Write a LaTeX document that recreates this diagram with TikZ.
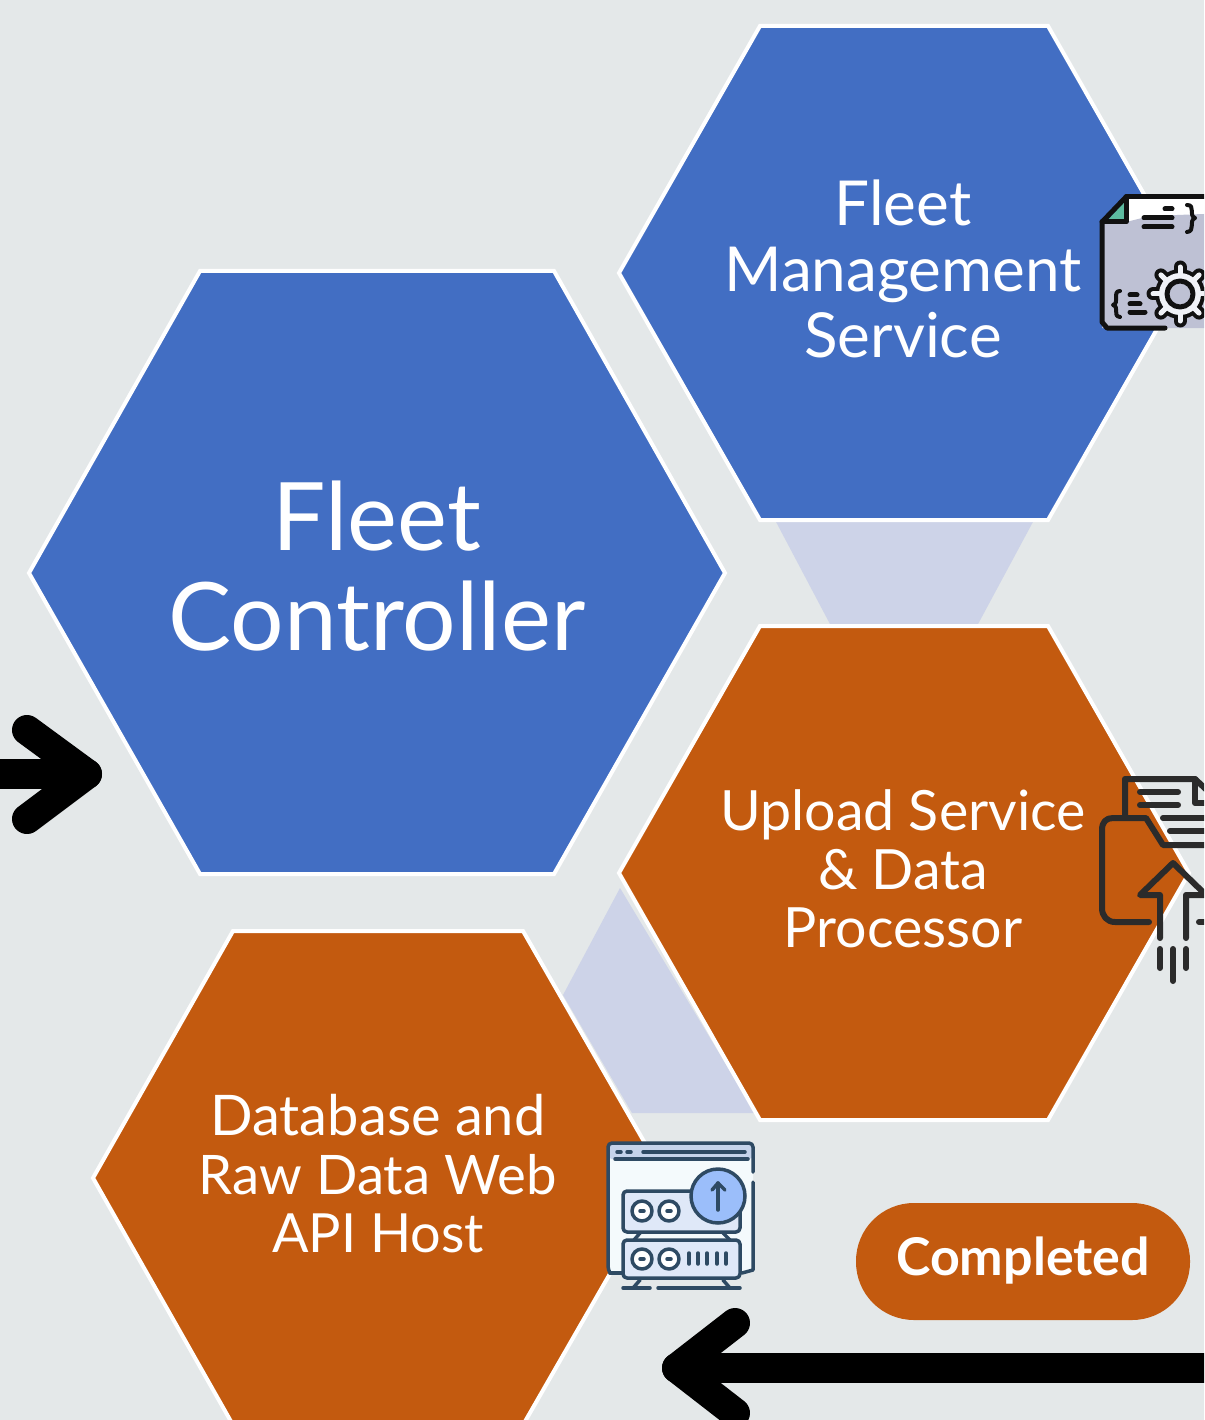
\documentclass[tikz,border=0pt]{standalone}
\usepackage{fontspec}
\setmainfont{Lato}
\definecolor{bgc}{HTML}{E4E8E9}
\definecolor{hexblue}{HTML}{426EC3}
\definecolor{hexorange}{HTML}{C35A0F}
\definecolor{band}{HTML}{CDD3E8}
\definecolor{inka}{HTML}{111111}
\definecolor{inkb}{HTML}{2B2B2B}
\definecolor{inkc}{HTML}{2E4A63}
\definecolor{docgray}{HTML}{BEC1D4}
\definecolor{docteal}{HTML}{5DBB9F}
\definecolor{gearw}{HTML}{F0F2F7}
\definecolor{winw}{HTML}{F4FAFC}
\definecolor{winh}{HTML}{C5D3EA}
\definecolor{rackc}{HTML}{DFE8F8}
\definecolor{circb}{HTML}{9BBEFA}
\tikzset{
  hexb/.style={fill=hexblue,draw=white,line width=4pt,line join=miter},
  hexo/.style={fill=hexorange,draw=white,line width=4pt,line join=miter},
  bandshape/.style={fill=band,draw=none},
  lbl/.style={text=white,align=center,inner sep=0pt},
  bigarrow/.style={draw=black,line width=30pt,line cap=round,line join=round},
  ioa/.style={draw=inka,line width=5pt,line cap=round,line join=round},
  iob/.style={draw=inkb,line width=6pt,line cap=round,line join=round},
  ioc/.style={draw=inkc,line width=3.5pt,line cap=round,line join=round},
}
\newcommand{\fs}[2]{\fontsize{#1}{#2}\selectfont}
\begin{document}
\begin{tikzpicture}[x=1pt,y=-1pt]
\useasboundingbox (0,0) rectangle (1204,1420);
\clip (0,0) rectangle (1204,1420);
\fill[bgc] (0,0) rectangle (1204,1420);
% bands
\fill[bandshape] (775,520) -- (1034,520) -- (977,626) -- (831,626) -- cycle;
\fill[bandshape] (563,995) -- (620,888) -- (755,1113) -- (632,1113) -- cycle;
% hexagons
\draw[hexb] (200,271) -- (554,271) -- (725,573) -- (554,874) -- (200,874) -- (29,573) -- cycle;
\draw[hexb] (760,26) -- (1048,26) -- (1189,273) -- (1048,520) -- (760,520) -- (619,273) -- cycle;
\draw[hexo] (760,626) -- (1048,626) -- (1189,873) -- (1048,1120) -- (760,1120) -- (619,873) -- cycle;
\draw[hexo] (233,931) -- (523,931) -- (665,1178) -- (523,1425) -- (233,1425) -- (93,1178) -- cycle;
% labels
\node[lbl,font=\fs{94.5}{100}] (fc) at (377,566) {Fleet\\Controller};
\node[lbl,font=\fs{62}{66}] (fms) at (903,269) {Fleet\\Management\\Service};
\node[lbl,font=\fs{55.5}{58.5}] (usp) at (903,869) {Upload Service\\\& Data\\Processor};
\node[lbl,font=\fs{56}{58.5}] (db) at (378,1174) {Database and\\\fs{54.5}{58.5}Raw Data Web\\\fs{54}{58.5}API Host};
% pill
\fill[hexorange,rounded corners=58pt] (856,1203) rectangle (1190,1320);
\node[lbl,font=\fs{52}{54}\bfseries] (done) at (1023,1261) {Completed};
% arrows
\coordinate (la0) at (-10,774); \coordinate (lat) at (87,774);
\draw[bigarrow] (la0) -- (lat);
\draw[bigarrow] (27,730) -- (lat) -- (27,819);
\coordinate (ra0) at (1215,1368); \coordinate (rat) at (677,1368);
\draw[bigarrow] (ra0) -- (rat);
\draw[bigarrow] (735,1323) -- (rat) -- (735,1413);
% icon 1
\fill[white] (1126,197) -- (1210,197) -- (1210,214) -- (1150,218) -- (1126,222) -- cycle;
\fill[docgray] (1102,222) -- (1126,222) -- (1150,216) -- (1204,214) -- (1204,328) -- (1102,328) -- cycle;
\fill[docteal] (1126,200) -- (1126,222) -- (1106,222) -- cycle;
\draw[ioa] (1126,197) -- (1206,197);
\draw[ioa] (1126,197) -- (1102,222) -- (1102,322) -- (1107,328) -- (1165,328);
\draw[ioa] (1126,197) -- (1126,222) -- (1102,222);
\draw[ioa] (1165,209) -- (1172,209);
\draw[ioa] (1144,218) -- (1172,218);
\draw[ioa] (1144,227) -- (1172,227);
\draw[ioa,line width=4pt] (1187,205) .. controls (1196,205) and (1188,215) .. (1195,218) .. controls (1188,221) and (1196,231) .. (1187,232);
\draw[ioa,line width=4pt] (1120,291) .. controls (1112,291) and (1120,303) .. (1113,305) .. controls (1120,307) and (1112,316) .. (1120,317);
\draw[ioa] (1130,295) -- (1137,295);
\draw[ioa] (1130,304) -- (1140,304);
\draw[ioa] (1130,312) -- (1145,312);
\foreach \a in {0,45,...,315} \draw[draw=inka,line width=13pt,line cap=round] (1180,294) -- ++(\a:27);
\fill[inka] (1180,294) circle (25);
\foreach \a in {0,45,...,315} \draw[draw=gearw,line width=5pt,line cap=round] (1180,294) -- ++(\a:27);
\fill[gearw] (1180,294) circle (21);
\draw[ioa,fill=docgray] (1180,294) circle (13);
% icon 2
\draw[iob] (1125,817) -- (1125,779) -- (1195,779) -- (1210,793);
\draw[iob] (1195,779) -- (1195,803) -- (1210,803);
\draw[iob] (1140,792) -- (1178,792);
\draw[iob] (1140,805) -- (1178,805);
\draw[iob] (1163,818) -- (1210,818);
\draw[iob] (1170,831) -- (1210,831);
\draw[iob] (1149,922) -- (1115,922) .. controls (1107,922) and (1102,916) .. (1102,908) -- (1102,830) .. controls (1102,822) and (1106,818) .. (1113,818) -- (1146,818) -- (1163,845) -- (1210,845);
\draw[iob] (1160,938) -- (1160,895) -- (1140,895) -- (1173,863) -- (1206,895) -- (1186,895) -- (1186,938);
\draw[iob] (1199,922) -- (1210,922);
\draw[iob] (1160,949) -- (1160,968);
\draw[iob] (1173,949) -- (1173,981);
\draw[iob] (1186,949) -- (1186,968);
% icon 3
\fill[winw,rounded corners=4pt] (608,1143) rectangle (753,1273);
\fill[winh,rounded corners=4pt] (608,1143) rectangle (753,1159);
\draw[ioc] (610,1273) -- (623,1273);
\draw[ioc,rounded corners=4pt] (610,1273) -- (608,1270) -- (608,1143) -- (753,1143) -- (753,1172);
\draw[ioc] (753,1182) -- (753,1270) -- (742,1273);
\draw[ioc] (617,1152) -- (621,1152);
\draw[ioc] (627,1152) -- (631,1152);
\draw[ioc] (643,1152) -- (745,1152);
\draw[ioc] (615,1159) -- (748,1159);
\draw[ioc,fill=rackc,rounded corners=4pt] (623,1191) rectangle (740,1232);
\draw[ioc,fill=rackc,rounded corners=4pt] (623,1240) rectangle (740,1278);
\draw[ioc] (640,1233) -- (634,1240);
\draw[ioc] (723,1233) -- (730,1240);
\draw[ioc] (640,1280) -- (633,1288);
\draw[ioc] (723,1280) -- (730,1288);
\draw[ioc] (623,1288) -- (650,1288);
\draw[ioc] (658,1288) -- (740,1288);
\draw[ioc,fill=circb] (718,1196) circle (27);
\draw[ioc] (718,1210) -- (718,1183);
\draw[ioc] (712,1190) -- (718,1183) -- (725,1190);
\foreach \px/\py in {642/1211,669/1211,642/1259,669/1259}{
  \draw[ioc,fill=white] (\px,\py) circle (10);
  \draw[ioc] (\px-2,\py) -- (\px+2,\py);
}
\foreach \bx in {689,698,707,717,726} \draw[ioc] (\bx,1253) -- (\bx,1264);
\end{tikzpicture}
\end{document}
